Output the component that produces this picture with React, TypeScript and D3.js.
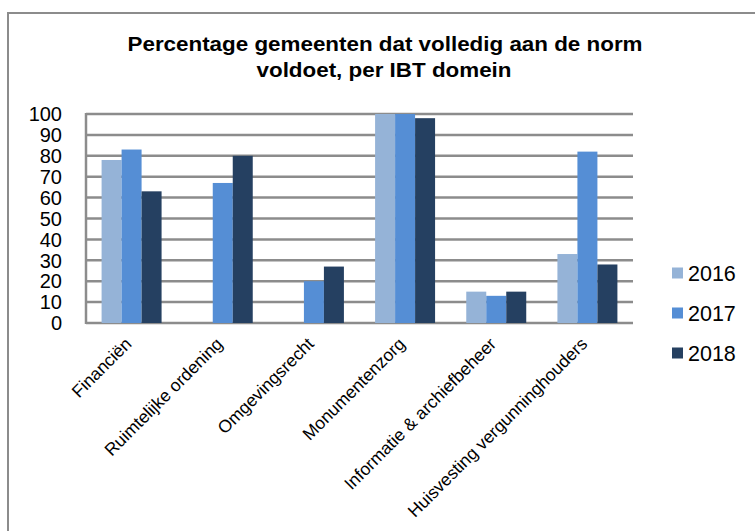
import React from 'react';
import * as d3 from 'd3';

const categories = [
  'Financiën',
  'Ruimtelijke ordening',
  'Omgevingsrecht',
  'Monumentenzorg',
  'Informatie & archiefbeheer',
  'Huisvesting vergunninghouders',
];
const series = ['2016', '2017', '2018'];
const values2016 = [78, 0, 0, 100, 15, 33];
const values2017 = [83, 67, 20, 100, 13, 82];
const values2018 = [63, 80, 27, 98, 15, 28];
const yTicks = [0, 10, 20, 30, 40, 50, 60, 70, 80, 90, 100];
const colors = ['#95b3d7', '#558ed5', '#254061'];

const W = 755;
const H = 531;
const plot = { left: 86, right: 633, top: 114, bottom: 323 };
const font = 'Arial, "Liberation Sans", sans-serif';

const App: React.FC = () => {
  const table = [values2016, values2017, values2018];

  const x0 = d3.scaleBand<string>()
    .domain(categories)
    .range([plot.left, plot.right])
    .paddingInner(0.342)
    .paddingOuter(0.171);

  const x1 = d3.scaleBand<string>()
    .domain(series)
    .range([0, x0.bandwidth()]);

  const y = d3.scaleLinear().domain([0, 100]).range([plot.bottom, plot.top]);

  return (
    <div style={{ position: 'absolute', left: 0, top: 0 }}>
      <svg width={W} height={H} style={{ display: 'block', background: '#fff' }}>
        {/* outer frame */}
        <rect x={8} y={13} width={W + 10} height={H + 10} fill="#fff" stroke="#8c8c8c" strokeWidth={2} />

        {/* title */}
        <text x={385} y={51} textAnchor="middle" fontFamily={font} fontWeight="bold" fontSize={21}
          textLength={515} lengthAdjust="spacingAndGlyphs" fill="#000">
          Percentage gemeenten dat volledig aan de norm
        </text>
        <text x={384} y={77} textAnchor="middle" fontFamily={font} fontWeight="bold" fontSize={21}
          textLength={255} lengthAdjust="spacingAndGlyphs" fill="#000">
          voldoet, per IBT domein
        </text>

        {/* gridlines */}
        {yTicks.map(t => (
          <line key={t} x1={plot.left} x2={plot.right} y1={y(t)} y2={y(t)} stroke="#8c8c8c" strokeWidth={2.5} />
        ))}
        <line x1={plot.left} x2={plot.left} y1={plot.top - 1} y2={plot.bottom + 1} stroke="#8c8c8c" strokeWidth={2.5} />

        {/* y labels */}
        {yTicks.map(t => (
          <text key={t} x={62} y={y(t)} dy="0.36em" textAnchor="end" fontFamily={font} fontSize={20} fill="#000">
            {t}
          </text>
        ))}

        {/* bars */}
        {categories.map((c, i) => (
          <g key={c} transform={`translate(${x0(c)},0)`}>
            {series.map((s, j) => {
              const v = table[j][i];
              if (!v) return null;
              return (
                <rect key={s} x={x1(s)} y={y(v)} width={x1.bandwidth()} height={y(0) - y(v)} fill={colors[j]} />
              );
            })}
          </g>
        ))}

        {/* x labels */}
        {categories.map(c => {
          const cx = (x0(c) || 0) + x0.bandwidth() / 2;
          return (
            <text key={c} transform={`translate(${cx + 1},${345}) rotate(-45)`} textAnchor="end"
              fontFamily={font} fontSize={17.5} fill="#000">
              {c}
            </text>
          );
        })}

        {/* legend */}
        {series.map((s, j) => (
          <g key={s} transform={`translate(672,${273 + j * 40})`}>
            <rect x={0} y={-5.5} width={11} height={11} fill={colors[j]} />
            <text x={16} y={0} dy="0.36em" fontFamily={font} fontSize={21.5} fill="#000">{s}</text>
          </g>
        ))}
      </svg>
    </div>
  );
};

export default App;
